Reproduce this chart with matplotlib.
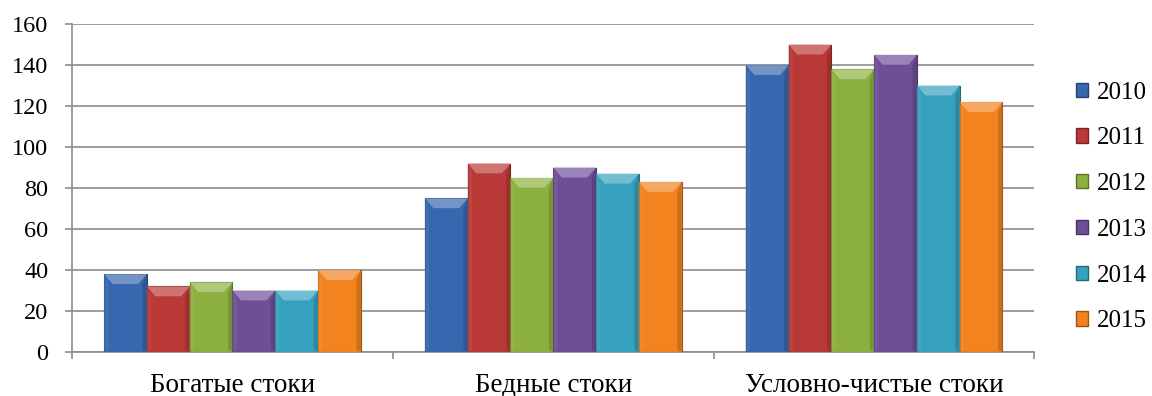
import matplotlib
matplotlib.use("Agg")
import matplotlib.pyplot as plt
import numpy as np
from matplotlib.patches import Polygon, Patch
import matplotlib.colors as mcolors

categories = ["Богатые стоки", "Бедные стоки", "Условно-чистые стоки"]
years = ["2010", "2011", "2012", "2013", "2014", "2015"]
v2010 = [38, 75, 140]
v2011 = [32, 92, 150]
v2012 = [34, 85, 138]
v2013 = [30, 90, 145]
v2014 = [30, 87, 130]
v2015 = [40, 83, 122]
series = [v2010, v2011, v2012, v2013, v2014, v2015]
colors = ["#3767AE", "#B93936", "#8CB03F", "#6E4E96", "#35A1BE", "#F2831F"]

plt.rcParams['font.family'] = ['Liberation Serif', 'DejaVu Serif']
fig = plt.figure(figsize=(11.52, 3.96), dpi=100)
ax = fig.add_axes([0.0625, 0.111, 0.8355, 0.828])

n = len(series)
group_w = 0.8
bw = group_w / n
x = np.arange(len(categories))

def shade(c, f):
    r, g, b = mcolors.to_rgb(c)
    if f > 0:
        return (r + (1 - r) * f, g + (1 - g) * f, b + (1 - b) * f)
    return (r * (1 + f), g * (1 + f), b * (1 + f))

for i, (vals, col) in enumerate(zip(series, colors)):
    pos = x - group_w / 2 + bw * (i + 0.5)
    bars = ax.bar(pos, vals, width=bw, color=col, edgecolor=shade(col, -0.35),
                  linewidth=0.8, zorder=3)
    for p in bars:
        x0, y0 = p.get_x(), p.get_y()
        w, h = p.get_width(), p.get_height()
        bh = 4.8
        ins = 0.2 * w
        top = Polygon([[x0, y0 + h], [x0 + w, y0 + h], [x0 + w - ins, y0 + h - bh],
                       [x0 + ins, y0 + h - bh]], closed=True,
                      facecolor=shade(col, 0.3), edgecolor='none', zorder=4)
        ax.add_patch(top)
        left = Polygon([[x0, y0 + h], [x0 + ins * 0.5, y0 + h - bh], [x0 + ins * 0.5, y0 + 1],
                        [x0, y0]], closed=True, facecolor=shade(col, 0.1), edgecolor='none',
                       zorder=4, alpha=0.6)
        ax.add_patch(left)
        right = Polygon([[x0 + w, y0 + h], [x0 + w - ins * 0.5, y0 + h - bh],
                         [x0 + w - ins * 0.5, y0 + 1], [x0 + w, y0]], closed=True,
                        facecolor=shade(col, -0.25), edgecolor='none', zorder=4, alpha=0.6)
        ax.add_patch(right)

ax.set_ylim(0, 160)
ax.set_xlim(-0.5, len(categories) - 0.5)
ax.set_yticks(np.arange(0, 161, 20))
ax.yaxis.grid(True, color='#8c8c8c', linewidth=1.2, zorder=0)
ax.set_axisbelow(True)

ax.set_xticks(x)
ax.set_xticklabels(categories, fontsize=19.5)
ax.tick_params(axis='x', length=0, pad=15)
ax.set_xticks(np.arange(-0.5, len(categories)), minor=True)
ax.tick_params(axis='x', which='minor', length=5, color='#8c8c8c', width=1.2)
ax.tick_params(axis='y', labelsize=17.5, length=5, color='#8c8c8c', width=1.2, pad=12)

for s in ['top', 'right']:
    ax.spines[s].set_visible(False)
for s in ['left', 'bottom']:
    ax.spines[s].set_color('#8c8c8c')
    ax.spines[s].set_linewidth(1.2)

handles = [Patch(facecolor=c, edgecolor=shade(c, -0.35), label=y) for c, y in zip(colors, years)]
fig.legend(handles=handles, loc='center left', bbox_to_anchor=(0.934, 0.477),
           frameon=False, fontsize=18, handlelength=0.5, handleheight=0.5,
           handletextpad=0.32, labelspacing=0.95, borderaxespad=0, borderpad=0)

fig.savefig("out.png", dpi=100)
